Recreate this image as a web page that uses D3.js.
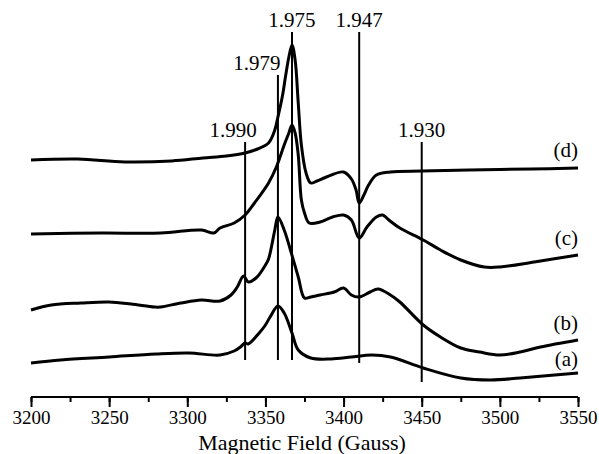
<!DOCTYPE html>
<html>
<head>
<meta charset="utf-8">
<script src="https://cdn.jsdelivr.net/npm/d3@7"></script>
</head>
<body style="margin:0">
<div id="chart"></div>
<script>
// field in Gauss, intensity in arbitrary units (traces already offset)
var traceA = [[3200,32],[3219,35],[3250,38],[3280,41],[3301,42],[3321,40],[3330,44],[3334,48],[3337,52],[3339,51],[3346,62],[3350,70],[3353,78],[3358,89],[3362,82],[3367,62],[3371,45],[3379,37],[3392,36],[3405,38],[3418,40],[3430,38],[3451,27],[3475,17],[3494,15],[3513,17],[3550,22]];
var traceB = [[3200,85],[3213,90],[3232,92],[3250,93],[3264,91],[3279,88],[3283,88],[3296,92],[3309,95],[3321,94],[3328,100],[3332,108],[3336,119],[3339,113],[3344,117],[3350,130],[3352,136],[3356,165],[3358,178],[3362,165],[3366,145],[3371,118],[3375,97],[3379,98],[3385,100],[3394,103],[3400,107],[3405,100],[3410,98],[3417,103],[3422,106],[3430,100],[3436,93],[3451,70],[3462,58],[3475,47],[3487,43],[3500,40],[3513,43],[3526,48],[3550,55]];
var traceC = [[3200,161],[3245,162],[3283,162],[3309,165],[3317,162],[3321,167],[3330,172],[3337,180],[3343,192],[3352,212],[3357,228],[3362,250],[3365,262],[3367,270],[3369,262],[3371,240],[3373,195],[3375,182],[3378,172],[3385,173],[3393,178],[3400,180],[3405,175],[3410,157],[3415,168],[3421,178],[3425,180],[3429,175],[3436,167],[3451,155],[3462,145],[3475,135],[3490,128],[3500,128],[3522,133],[3550,140]];
var traceD = [[3200,235],[3230,236],[3260,233],[3290,234],[3310,237],[3325,239],[3337,242],[3345,246],[3352,252],[3356,265],[3358,278],[3361,300],[3363,320],[3365,338],[3367,350],[3369,335],[3371,292],[3373,250],[3376,222],[3379,212],[3383,214],[3389,218],[3400,223],[3405,216],[3408,205],[3410,192],[3413,200],[3416,210],[3421,220],[3430,223],[3450,224],[3480,225],[3520,226],[3550,227]];

var traces = [traceA, traceB, traceC, traceD];
var traceNames = ["(a)", "(b)", "(c)", "(d)"];
var traceLabelLevel = [29, 65, 150, 238];

// g-value markers: position (G), top and bottom (intensity units)
var gLabels = ["1.990", "1.979", "1.975", "1.947", "1.930"];
var gField = [3337, 3358, 3367, 3410, 3450];
var gTop = [253, 320, 363, 363, 253];
var gBottom = [35, 35, 35, 32, 13];
var gLabelShift = [-12, -21, 0, 0, 0];

var xTicks = [3200, 3250, 3300, 3350, 3400, 3450, 3500, 3550];

var width = 599, height = 454;
var svg = d3.select("#chart").append("svg")
  .attr("width", width)
  .attr("height", height);

var x = d3.scaleLinear().domain([3200, 3550]).range([31, 578]);
var y = d3.scaleLinear().domain([0, 350]).range([395, 45]);

function label(sel, size) {
  sel.attr("font-family", "'Liberation Serif'")
    .style("font-family", "'Liberation Serif'")
    .attr("font-size", size)
    .attr("fill", "#000");
}

// bottom axis: minor ticks every 25 G, labelled ticks every 50 G
var axisY = 397;
svg.append("g")
  .attr("transform", "translate(0," + axisY + ")")
  .call(d3.axisBottom(x).tickValues(d3.range(3200, 3551, 25)).tickSize(5).tickFormat(""))
  .call(g => g.select(".domain").attr("stroke-width", 2).attr("d", "M" + x(3200) + ",0H" + x(3550)))
  .call(g => g.selectAll(".tick line").attr("stroke-width", 2));

svg.append("g")
  .attr("transform", "translate(0," + axisY + ")")
  .call(d3.axisBottom(x).tickValues(xTicks).tickSize(10).tickPadding(4).tickFormat(d3.format("d")))
  .call(g => g.select(".domain").remove())
  .call(g => g.selectAll(".tick line").attr("stroke-width", 2))
  .call(g => label(g.selectAll(".tick text"), 19));

svg.append("text")
  .attr("x", 302)
  .attr("y", 450)
  .attr("text-anchor", "middle")
  .text("Magnetic Field (Gauss)")
  .call(label, 22);

// vertical g-value lines
gField.forEach(function (f, i) {
  svg.append("line")
    .attr("x1", x(f)).attr("x2", x(f))
    .attr("y1", y(gTop[i])).attr("y2", y(gBottom[i]))
    .attr("stroke", "#000")
    .attr("stroke-width", 2);
  svg.append("text")
    .attr("x", x(f) + gLabelShift[i])
    .attr("y", y(gTop[i]) - 5)
    .attr("text-anchor", "middle")
    .text(gLabels[i])
    .call(label, 21);
});

// spectra
var line = d3.line()
  .x(d => x(d[0]))
  .y(d => y(d[1]))
  .curve(d3.curveCatmullRom.alpha(0.5));

traces.forEach(function (t, i) {
  svg.append("path")
    .datum(t)
    .attr("fill", "none")
    .attr("stroke", "#000")
    .attr("stroke-width", 3)
    .attr("stroke-linejoin", "round")
    .attr("d", line);
  svg.append("text")
    .attr("x", 578)
    .attr("y", y(traceLabelLevel[i]))
    .attr("text-anchor", "end")
    .text(traceNames[i])
    .call(label, 21);
});
</script>
</body>
</html>
